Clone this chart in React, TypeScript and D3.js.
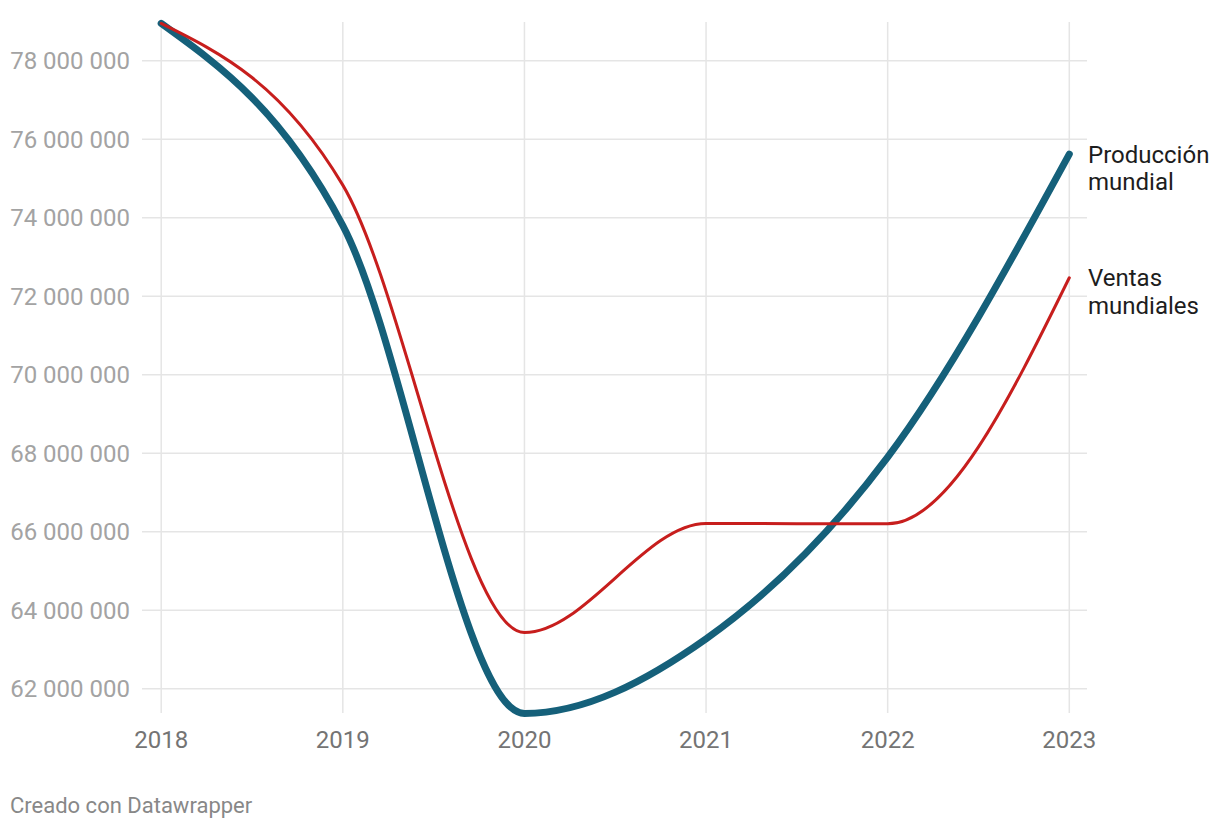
import React from "react";
import * as d3 from "d3";

const years = [2018, 2019, 2020, 2021, 2022, 2023];
const produccion = [78.95e6, 73.8e6, 61.37e6, 63.27e6, 67.9e6, 75.62e6];
const ventas = [78.95e6, 74.83e6, 63.43e6, 66.21e6, 66.2e6, 72.47e6];
const yTicks = [62e6, 64e6, 66e6, 68e6, 70e6, 72e6, 74e6, 76e6, 78e6];
const seriesNames = ["Producción mundial", "Ventas mundiales"];
const credit = "Creado con Datawrapper";

const W = 1220;
const H = 830;

export default function App() {
  const x = d3.scaleLinear().domain([2018, 2023]).range([161.2, 1069.3]);
  const y = d3.scaleLinear().domain([62e6, 78e6]).range([688.7, 60.7]);
  const fmt = (v: number) => d3.format(",")(v).replace(/,/g, " ");

  const line = d3
    .line<number>()
    .x((_, i) => x(years[i]))
    .y((d) => y(d))
    .curve(d3.curveMonotoneX);

  const series = [
    { name: seriesNames[0], values: produccion, color: "#15607a", width: 7 },
    { name: seriesNames[1], values: ventas, color: "#c71e1d", width: 3 },
  ];

  const gridTop = 22;
  const gridBottom = 713;
  const gridLeft = 142;
  const gridRight = 1087;

  return (
    <svg
      width={W}
      height={H}
      style={{ position: "absolute", left: 0, top: 0, background: "#fff" }}
      fontFamily="Roboto, sans-serif"
    >
      <g>
        {yTicks.map((t) => (
          <line
            key={"h" + t}
            x1={gridLeft}
            x2={gridRight}
            y1={y(t)}
            y2={y(t)}
            stroke="#e5e5e5"
            strokeWidth={1.5}
          />
        ))}
        {years.map((yr) => (
          <line
            key={"v" + yr}
            x1={x(yr)}
            x2={x(yr)}
            y1={gridTop}
            y2={gridBottom}
            stroke="#e5e5e5"
            strokeWidth={1.5}
          />
        ))}
      </g>
      <g>
        {yTicks.map((t) => (
          <text
            key={"yl" + t}
            x={130}
            y={y(t)}
            dy="0.36em"
            textAnchor="end"
            fontSize={24}
            fill="#a3a3a3"
          >
            {fmt(t)}
          </text>
        ))}
        {years.map((yr) => (
          <text
            key={"xl" + yr}
            x={x(yr)}
            y={748}
            textAnchor="middle"
            fontSize={24}
            fill="#747474"
          >
            {yr}
          </text>
        ))}
      </g>
      <g fill="none" strokeLinecap="round" strokeLinejoin="round">
        {series.map((s) => (
          <path
            key={s.name}
            d={line(s.values) || ""}
            stroke={s.color}
            strokeWidth={s.width}
          />
        ))}
      </g>
      <g>
        {series.map((s) => {
          const last = s.values[s.values.length - 1];
          const words = s.name.split(" ");
          return (
            <text
              key={"lab" + s.name}
              x={1088}
              y={y(last)}
              fontSize={24}
              fill="#1d1d1d"
            >
              {words.map((w, i) => (
                <tspan key={i} x={1088} dy={i === 0 ? "0.36em" : 27.7}>
                  {w}
                </tspan>
              ))}
            </text>
          );
        })}
      </g>
      <text x={10} y={813} fontSize={22} fill="#888888">
        {credit}
      </text>
    </svg>
  );
}
